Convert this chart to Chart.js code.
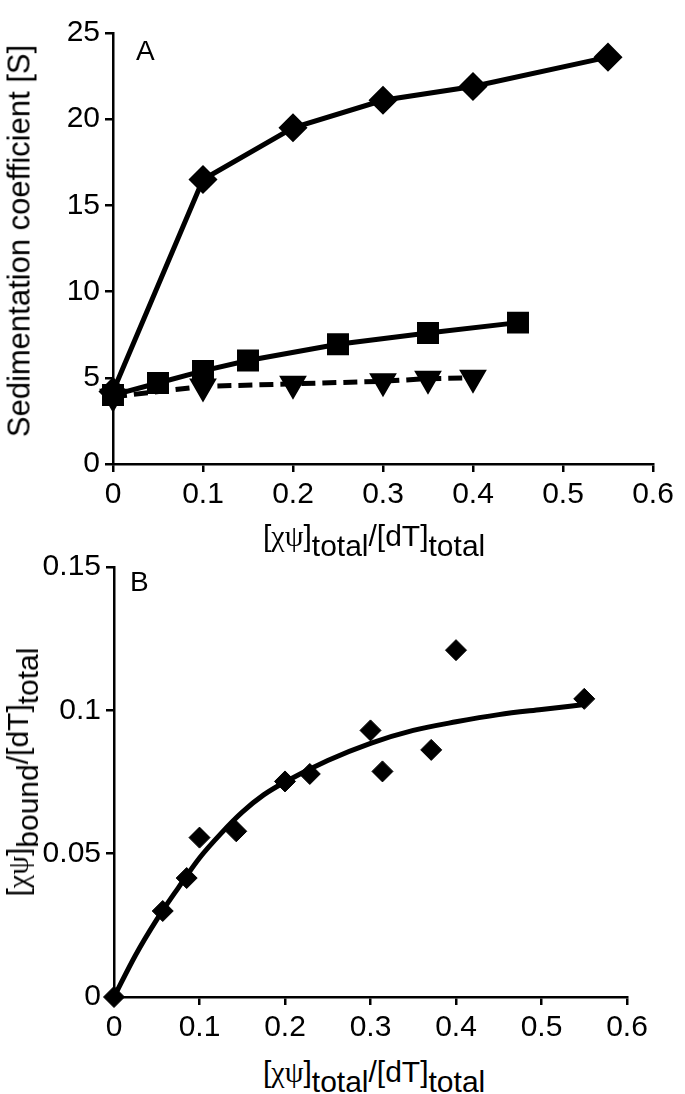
<!DOCTYPE html>
<html>
<head>
<meta charset="utf-8">
<script src="https://cdn.jsdelivr.net/npm/chart.js@4.4.1/dist/chart.umd.min.js"></script>
<style>
  body { margin: 0; background: #fff; }
  #wrap { position: relative; width: 685px; height: 1094px; overflow: hidden; font-family: "Liberation Sans", Arial, sans-serif; color: #000; }
  canvas { position: absolute; left: 0; }
  .lbl { position: absolute; white-space: nowrap; font-size: 30px; line-height: 1; }
  .lbl sub { font-size: 30px; vertical-align: -10px; line-height: 0; }
  .gr { font-family: "Liberation Serif", "DejaVu Serif", serif; }
  .panel { position: absolute; font-size: 28px; line-height: 1; }
  .rot { transform: translate(-50%, -50%) rotate(-90deg); }
</style>
</head>
<body>
<div id="wrap">
  <canvas id="chartA" width="685" height="515" style="top:0"></canvas>
  <canvas id="chartB" width="685" height="500" style="top:540px"></canvas>

  <div class="panel" style="left:136px; top:37px">A</div>
  <div class="panel" style="left:130px; top:568px">B</div>

  <div class="lbl rot" style="left:19px; top:241px; font-size:31px">Sedimentation coefficient [S]</div>
  <div class="lbl" style="left:263px; top:521px">[<span class="gr">χψ</span>]<sub>total</sub>/[dT]<sub>total</sub></div>

  <div class="lbl rot" style="left:18px; top:772px">[<span class="gr">χψ</span>]<sub>bound</sub>/[dT]<sub>total</sub></div>
  <div class="lbl" style="left:263px; top:1057px">[<span class="gr">χψ</span>]<sub>total</sub>/[dT]<sub>total</sub></div>
</div>

<script>
// panel A: sedimentation coefficient vs ratio
const xDiamondA = [0, 0.1, 0.2, 0.3, 0.4, 0.55];
const yDiamondA = [4.2, 16.5, 19.5, 21.1, 21.9, 23.6];
const xSquareA = [0, 0.05, 0.1, 0.15, 0.25, 0.35, 0.45];
const ySquareA = [4.0, 4.7, 5.4, 6.0, 6.95, 7.6, 8.2];
const xTriA = [0, 0.1, 0.2, 0.3, 0.35, 0.4];
const yTriA = [3.9, 4.5, 4.65, 4.8, 4.95, 5.0];

// panel B: bound fraction, measured points and fitted curve
const xPointsB = [0, 0.057, 0.085, 0.1, 0.143, 0.2, 0.229, 0.3, 0.314, 0.371, 0.4, 0.55];
const yPointsB = [0, 0.030, 0.0415, 0.0556, 0.0578, 0.0752, 0.0778, 0.093, 0.0787, 0.0862, 0.121, 0.104];
const xFitB = [0, 0.025, 0.05, 0.075, 0.1, 0.125, 0.15, 0.175, 0.2, 0.25, 0.3, 0.35, 0.4, 0.45, 0.5, 0.55];
const yFitB = [0, 0.0145, 0.027, 0.038, 0.0485, 0.057, 0.0645, 0.0705, 0.075, 0.0825, 0.0885, 0.093, 0.096, 0.0985, 0.1003, 0.102];

const pts = (xs, ys) => xs.map((x, i) => ({ x: x, y: ys[i] }));
const fmt = v => String(Number(v.toFixed(2)));
const tickFont = { family: '"Liberation Sans", Arial, sans-serif', size: 30 };

function axis(min, max, step, fit) {
  return {
    type: 'linear',
    min: min,
    max: max,
    ticks: { stepSize: step, color: '#000', font: tickFont, padding: 5, callback: fmt },
    grid: { display: true, drawOnChartArea: false, drawTicks: true, tickLength: 8, color: '#000', lineWidth: 2.5 },
    border: { display: true, color: '#000', width: 2.5 },
    afterFit: fit
  };
}

const common = {
  responsive: false,
  animation: false,
  devicePixelRatio: 1,
  plugins: { legend: { display: false }, tooltip: { enabled: false } }
};

new Chart(document.getElementById('chartA'), {
  type: 'scatter',
  data: {
    datasets: [
      {
        data: pts(xTriA, yTriA), showLine: true, borderColor: '#000', borderWidth: 5, borderDash: [14, 7],
        pointStyle: 'triangle', rotation: 180, pointRadius: 11, backgroundColor: '#000', clip: false
      },
      {
        data: pts(xSquareA, ySquareA), showLine: true, borderColor: '#000', borderWidth: 5,
        pointStyle: 'rect', pointRadius: 12, backgroundColor: '#000', clip: false
      },
      {
        data: pts(xDiamondA, yDiamondA), showLine: true, borderColor: '#000', borderWidth: 5,
        pointStyle: 'rectRot', pointRadius: 11, backgroundColor: '#000', clip: false
      }
    ]
  },
  options: {
    ...common,
    layout: { padding: { top: 33, right: 32, left: 0, bottom: 0 } },
    scales: {
      x: axis(0, 0.6, 0.1, s => { s.height = 515 - 464; }),
      y: axis(0, 25, 5, s => { s.width = 113; })
    }
  }
});

new Chart(document.getElementById('chartB'), {
  type: 'scatter',
  data: {
    datasets: [
      {
        data: pts(xFitB, yFitB), showLine: true, borderColor: '#000', borderWidth: 5,
        pointRadius: 0, cubicInterpolationMode: 'monotone', clip: false
      },
      {
        data: pts(xPointsB, yPointsB), showLine: false,
        pointStyle: 'rectRot', pointRadius: 10.5, backgroundColor: '#000', borderColor: '#000', clip: false
      }
    ]
  },
  options: {
    ...common,
    layout: { padding: { top: 27, right: 58, left: 0, bottom: 0 } },
    scales: {
      x: axis(0, 0.6, 0.1, s => { s.height = 1040 - 997; }),
      y: axis(0, 0.15, 0.05, s => { s.width = 114; })
    }
  }
});
</script>
</body>
</html>
